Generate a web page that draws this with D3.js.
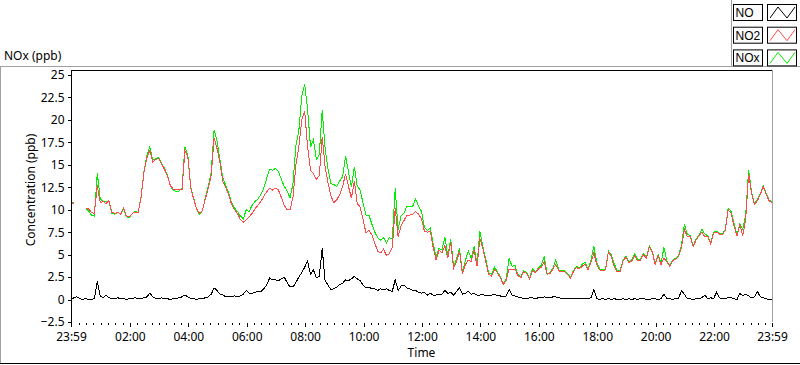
<!DOCTYPE html>
<html>
<head>
<meta charset="utf-8">
<script src="https://cdn.jsdelivr.net/npm/d3@7"></script>
<style>
  body { margin: 0; background: #fff; }
  svg { display: block; }
  text { font-family: "Noto Sans", sans-serif; font-size: 12px; fill: #000; }
  .legend text { font-family: "Liberation Sans", sans-serif; font-size: 12px; }
  .trace { fill: none; stroke-width: 1; shape-rendering: crispEdges; }
</style>
</head>
<body>
<svg width="800" height="365"></svg>
<script>
// samples every 6 minutes, starting 23:59 the day before
var stepMin = 6;

var no = [
  0.0, 0.2, 0.3, 0.1, 0.0, 0.1, 0.0, 0.0, 0.1, 2.0,
  0.4, 0.2, 0.5, 0.2, 0.1, 0.1, 0.2, 0.1, 0.1, 0.0,
  0.1, 0.1, 0.2, 0.1, 0.1, 0.2, 0.3, 0.7, 0.3, 0.1,
  0.1, 0.2, 0.1, 0.1, 0.0, 0.1, 0.1, 0.2, 0.3, 0.5,
  0.3, 0.1, 0.1, 0.0, 0.1, 0.1, 0.2, 0.3, 0.6, 1.3,
  1.0, 0.6, 0.5, 0.3, 0.3, 0.3, 0.4, 0.3, 0.4, 0.6,
  1.0, 0.7, 0.7, 0.8, 0.9, 0.9, 1.2, 1.6, 2.4, 2.2,
  2.2, 2.1, 2.3, 2.5, 1.9, 1.4, 1.4, 1.9, 2.5, 3.0,
  3.6, 4.3, 2.8, 3.3, 2.4, 2.6, 5.7, 2.1, 1.6, 1.1,
  1.2, 1.4, 1.7, 1.8, 2.2, 2.1, 2.3, 2.6, 2.3, 2.1,
  1.6, 1.3, 1.4, 1.2, 1.2, 1.0, 1.2, 1.1, 1.2, 1.0,
  0.9, 2.2, 1.0, 1.5, 1.6, 1.3, 1.2, 1.0, 1.0, 0.8,
  0.7, 0.8, 0.5, 0.7, 0.5, 0.5, 0.6, 0.6, 1.0, 0.7,
  0.8, 0.5, 0.9, 1.3, 0.6, 0.7, 0.9, 0.6, 0.7, 0.5,
  0.5, 0.6, 0.4, 0.4, 0.5, 0.6, 0.4, 0.4, 0.3, 0.4,
  1.1, 0.5, 0.4, 0.3, 0.2, 0.1, 0.1, 0.2, 0.2, 0.1,
  0.2, 0.2, 0.3, 0.2, 0.2, 0.3, 0.3, 0.2, 0.1, 0.1,
  0.1, 0.1, 0.1, 0.1, 0.1, 0.1, 0.1, 0.1, 0.2, 1.1,
  0.1, 0.0, 0.1, 0.0, 0.1, 0.0, 0.1, 0.0, 0.0, 0.1,
  0.0, 0.1, 0.0, 0.1, 0.0, 0.1, 0.1, 0.0, 0.0, 0.1,
  0.1, 0.0, 0.1, 0.6, 0.1, 0.1, 0.0, 0.1, 0.1, 1.0,
  0.6, 0.1, 0.1, 0.0, 0.1, 0.1, 0.2, 0.5, 0.1, 0.2,
  0.1, 0.8, 0.2, 0.1, 0.1, 0.2, 0.2, 0.1, 0.0, 0.7,
  0.4, 0.6, 0.4, 0.2, 0.3, 0.9, 0.3, 0.2, 0.1, 0.0,
  0.0
];

var no2 = [
  10.8, 10.7, null, 10.5, null, 10.2, 10.1, 9.7, 9.6, 12.7,
  10.8, 10.9, 10.7, 11.0, 9.7, 9.6, 9.7, 9.5, 10.2, 9.3,
  9.2, 9.6, 9.7, 9.7, 11.4, 14.2, 15.8, 16.6, 15.3, 15.6,
  15.7, 15.1, 14.5, 13.8, 12.7, 12.3, 12.2, 12.2, 12.2, 16.6,
  15.9, 12.4, 11.2, 10.1, 9.6, 9.9, 11.2, 12.4, 13.8, 18.0,
  16.8, 15.2, 13.1, 12.5, 11.6, 10.6, 10.0, 9.6, 8.9, 8.6,
  8.9, 9.2, 9.6, 10.1, 10.5, 10.9, 11.5, 12.0, 12.4, 12.2,
  12.4, 12.2, 11.4, 10.5, 10.0, 10.0, 11.4, 15.0, 17.0, 20.0,
  21.0, 17.0, 14.4, 14.0, 13.4, 13.8, 18.1, 14.8, 13.0, 11.5,
  10.8, 11.1, 11.7, 12.6, 14.0, 12.6, 11.3, 13.2, 10.7, 10.3,
  8.9, 7.4, 7.7, 7.2, 6.3, 5.4, 5.2, 5.6, 4.9, 5.1,
  5.8, 10.2, 7.0, 8.2, 8.8, 9.4, 9.4, 9.5, 9.8, 9.5,
  9.0, 7.6, 7.5, 7.6, 5.8, 4.4, 5.5, 5.2, 6.0, 4.6,
  6.4, 3.5, 4.2, 5.4, 2.9, 3.9, 4.4, 4.2, 5.5, 3.7,
  6.8, 5.7, 4.2, 2.8, 2.6, 3.3, 3.0, 2.4, 1.7, 2.1,
  3.4, 3.3, 3.4, 2.7, 2.4, 3.1, 2.9, 2.3, 3.2, 3.0,
  3.4, 3.6, 4.2, 2.8, 2.9, 3.4, 3.9, 3.2, 3.1, 3.1,
  2.8, 2.4, 3.1, 3.6, 3.4, 3.7, 3.9, 3.3, 4.1, 5.2,
  3.9, 3.3, 3.2, 3.3, 5.3, 4.8, 3.6, 3.1, 3.1, 4.3,
  4.7, 4.1, 4.3, 4.9, 4.3, 4.4, 5.0, 4.6, 5.9, 5.3,
  3.9, 4.9, 3.9, 4.6, 4.2, 3.7, 4.3, 4.5, 4.8, 5.8,
  7.8, 7.0, 7.0, 5.9, 6.6, 7.1, 7.5, 7.0, 7.0, 6.2,
  7.4, 7.5, 7.3, 7.2, 7.7, 10.0, 9.6, 8.2, 7.1, 8.3,
  7.1, 9.0, 14.0, 11.8, 10.6, 11.0, 11.7, 12.6, 11.7, 11.0,
  10.8
];

var nox = [
  10.9, 10.8, null, 10.5, null, 10.1, 9.9, 9.4, 9.3, 14.1,
  11.2, 10.9, 10.9, 10.9, 9.6, 9.5, 9.7, 9.5, 10.1, 9.2,
  9.1, 9.6, 9.8, 9.7, 11.5, 14.3, 16.1, 17.0, 15.5, 15.7,
  15.8, 15.2, 14.6, 13.9, 12.6, 12.2, 12.0, 12.1, 12.4, 17.0,
  16.1, 12.5, 11.3, 10.0, 9.5, 9.9, 11.3, 12.6, 14.2, 18.9,
  17.6, 15.6, 13.5, 12.7, 11.8, 10.8, 10.2, 9.8, 9.3, 9.0,
  10.0, 9.8, 10.5, 10.9, 11.2, 11.7, 12.4, 13.5, 14.5, 14.4,
  14.6, 14.3, 13.4, 12.6, 12.1, 11.3, 12.9, 17.2, 18.8, 22.6,
  24.0, 21.2, 17.0, 17.8, 15.6, 16.1, 21.1, 16.8, 14.5, 12.9,
  12.8, 12.6, 13.2, 13.7, 16.0, 14.2, 12.5, 14.8, 12.6, 12.2,
  10.7, 9.4, 9.4, 8.4, 7.5, 6.9, 6.6, 6.9, 6.3, 6.9,
  6.7, 12.4, 7.8, 9.3, 9.6, 10.4, 10.4, 10.4, 11.2, 10.4,
  9.8, 8.0, 7.7, 8.0, 6.2, 4.8, 5.7, 5.5, 7.0, 4.8,
  6.7, 3.7, 4.5, 5.7, 3.1, 4.3, 5.4, 4.6, 5.9, 3.9,
  7.6, 5.9, 4.5, 3.0, 2.8, 3.6, 3.1, 2.5, 1.8, 2.3,
  4.6, 3.7, 3.8, 2.8, 2.5, 3.2, 3.0, 2.4, 3.4, 3.1,
  3.5, 3.8, 4.8, 2.9, 3.0, 3.5, 4.4, 3.3, 3.2, 3.2,
  2.9, 2.5, 3.2, 3.7, 3.5, 3.9, 4.2, 3.4, 4.3, 6.0,
  4.1, 3.4, 3.3, 3.4, 5.4, 5.0, 4.0, 3.2, 3.2, 4.4,
  4.8, 4.2, 4.4, 5.1, 4.5, 4.5, 5.1, 4.7, 6.0, 5.4,
  4.0, 5.0, 4.0, 5.8, 4.3, 3.8, 4.4, 4.6, 4.9, 6.0,
  8.4, 7.3, 7.1, 6.0, 6.7, 7.2, 7.8, 7.3, 7.1, 6.3,
  7.5, 7.6, 7.4, 7.3, 7.8, 10.2, 9.8, 8.5, 7.2, 8.4,
  7.8, 9.5, 14.4, 12.0, 10.7, 11.1, 11.8, 12.7, 11.8, 11.1,
  10.9
];

var yTicks = [-2.5, 0, 2.5, 5, 7.5, 10, 12.5, 15, 17.5, 20, 22.5, 25];
var seriesNames = ["NO", "NO2", "NOx"];
var seriesColors = ["#000000", "#ff4a4a", "#00ee00"];

var svg = d3.select("svg");
var W = 800, H = 365;

var start = new Date(Date.UTC(2000, 0, 1, 23, 59));
var end = new Date(start.getTime() + 24 * 3600 * 1000);

var plot = {left: 71, right: 772, top: 70, bottom: 322};

var x = d3.scaleUtc().domain([start, end]).range([plot.left, plot.right]);
var y = d3.scaleLinear().domain([-2.5, 25]).range([plot.bottom, 75]);

function timeAt(i) { return new Date(start.getTime() + i * stepMin * 60000); }

// window frame bits
svg.append("line").attr("x1", 0.5).attr("x2", 0.5).attr("y1", 66).attr("y2", 363)
  .attr("stroke", "#a0a0a0");
svg.append("line").attr("x1", 0).attr("x2", W).attr("y1", 363.5).attr("y2", 363.5)
  .attr("stroke", "#000");
svg.append("line").attr("x1", 0).attr("x2", W).attr("y1", 66.5).attr("y2", 66.5)
  .attr("stroke", "#a0a0a0");
svg.append("line").attr("x1", 731.5).attr("x2", 731.5).attr("y1", 0).attr("y2", 66)
  .attr("stroke", "#a0a0a0");

svg.append("text").attr("x", 4).attr("y", 60).text("NOx (ppb)");

// plot frame
svg.append("line").attr("x1", plot.left).attr("x2", plot.right).attr("y1", plot.top + 0.5).attr("y2", plot.top + 0.5)
  .attr("stroke", "#000");
svg.append("line").attr("x1", plot.right + 0.5).attr("x2", plot.right + 0.5).attr("y1", plot.top).attr("y2", plot.bottom)
  .attr("stroke", "#a0a0a0");

// y axis
var yAxis = svg.append("g")
  .attr("transform", "translate(" + (plot.left + 0.5) + ",0)")
  .call(d3.axisLeft(y).tickValues(yTicks).tickSize(4).tickPadding(3).tickFormat(d3.format("")));
yAxis.select(".domain").attr("d", "M0," + plot.top + "V" + (plot.bottom + 1));
yAxis.selectAll("text").style("font-family", "Noto Sans").style("font-size", "12px").attr("fill", "#000");

// x axis: minor ticks every 15 min, major every 2 h (the 00:00 one sits on the 23:59 start)
var xg = svg.append("g").attr("transform", "translate(0," + (plot.bottom + 1) + ")");
xg.call(d3.axisBottom(x).ticks(d3.utcMinute.every(15)).tickSize(2).tickFormat(""))
  .select(".domain").remove();
var majors = d3.utcHour.every(2).range(new Date(start.getTime() + 3600000), end);
var xg2 = svg.append("g").attr("transform", "translate(0," + (plot.bottom + 1) + ")");
xg2.call(d3.axisBottom(x).tickValues([start].concat(majors, [end])).tickSize(4).tickPadding(5)
    .tickFormat(d3.utcFormat("%H:%M")))
  .select(".domain").remove();
xg2.selectAll("text").style("font-family", "Noto Sans").style("font-size", "12px").attr("fill", "#000");
svg.selectAll(".tick line").attr("shape-rendering", "crispEdges");

svg.append("text").attr("x", (plot.left + plot.right) / 2).attr("y", 357)
  .attr("text-anchor", "middle").text("Time");
svg.append("text").attr("transform", "translate(35," + 190 + ") rotate(-90)")
  .attr("text-anchor", "middle").attr("fill", "#2a1408").text("Concentration (ppb)");

// traces
var line = d3.line()
  .defined(function(d) { return d != null; })
  .x(function(d, i) { return x(timeAt(i)); })
  .y(function(d) { return y(d); });

var clip = svg.append("clipPath").attr("id", "clip").append("rect")
  .attr("x", plot.left + 1).attr("y", plot.top + 1)
  .attr("width", plot.right - plot.left - 1).attr("height", plot.bottom - plot.top);

var traces = svg.append("g").attr("clip-path", "url(#clip)");
[[nox, 2], [no2, 1], [no, 0]].forEach(function(s) {
  traces.append("path").attr("class", "trace")
    .attr("stroke", seriesColors[s[1]])
    .attr("d", line(s[0]));
});

// legend
var lg = svg.append("g").attr("class", "legend");
seriesNames.forEach(function(name, k) {
  var top = 4 + k * 22.7;
  var row = lg.append("g").attr("transform", "translate(0," + top + ")");
  row.append("rect").attr("x", 733.5).attr("y", 0.5).attr("width", 29).attr("height", 16)
    .attr("fill", "#fbfbfb").attr("stroke", "#000");
  row.append("text").attr("x", 735.5).attr("y", 13).text(name);
  row.append("rect").attr("x", 767.5).attr("y", 0.5).attr("width", 29).attr("height", 16)
    .attr("fill", "#fff").attr("stroke", "#000");
  row.append("path")
    .attr("d", d3.line()([[770, 14], [778, 3], [787, 14], [795, 3]]))
    .attr("fill", "none").attr("stroke", seriesColors[k]);
});
</script>
</body>
</html>
